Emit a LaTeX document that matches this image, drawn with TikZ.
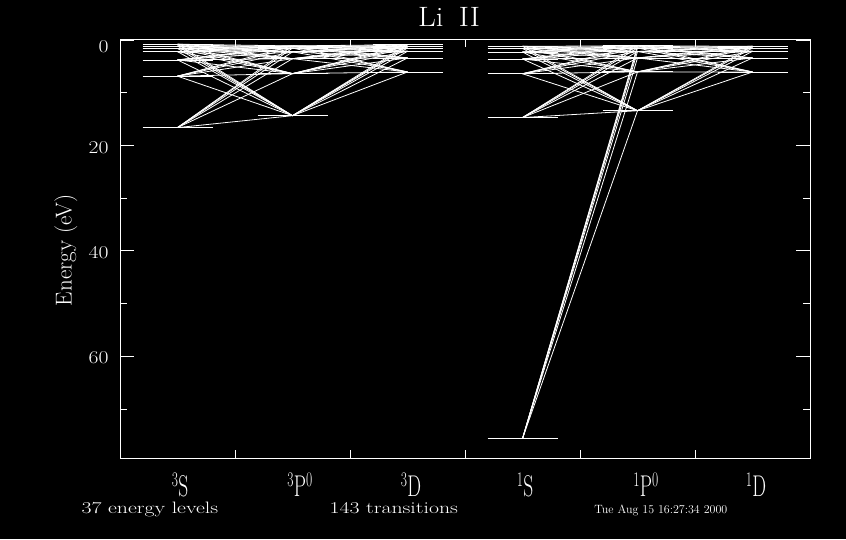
\documentclass[tikz,border=0pt]{standalone}
\begin{document}
\begin{tikzpicture}[x=1pt, y=-1pt, white, line width=0.8pt,
    ticklab/.style={font=\fontsize{18}{18}\selectfont, xscale=1.2, anchor=east},
    termlab/.style={font=\fontsize{30}{30}\selectfont, xscale=0.65, anchor=base, inner sep=0pt},
    infolab/.style={font=\fontsize{16.5}{16.5}\selectfont, xscale=1.32, anchor=base west, inner sep=0pt}]
  % Background and page size
  \fill[black] (0,0) rectangle (846,539);
  \useasboundingbox (0,0) rectangle (846,539);

  % Level positions (binding energy in eV, 5.27 px per eV)
  \foreach \n/\e in {2/16.62,3/6.86,4/3.78,5/2.2,6/1.6,7/1.15,8/0.8}
    \coordinate (tS-\n) at (177.5,{40+5.27*\e});
  \foreach \n/\e in {2/14.36,3/6.38,4/3.54,5/2.25,6/1.54,7/1.12}
    \coordinate (tP-\n) at (292.5,{40+5.27*\e});
  \foreach \n/\e in {3/6.07,4/3.4,5/2.15,6/1.52,7/1.2,8/0.89}
    \coordinate (tD-\n) at (407.5,{40+5.27*\e});
  \foreach \n/\e in {1/75.64,2/14.72,3/6.4,4/3.6,5/2.28,6/1.6,7/1.2}
    \coordinate (sS-\n) at (522.5,{40+5.27*\e});
  \foreach \n/\e in {2/13.42,3/6.05,4/3.4,5/2.18,6/1.51,7/1.11}
    \coordinate (sP-\n) at (637.5,{40+5.27*\e});
  \foreach \n/\e in {3/6.07,4/3.4,5/2.15,6/1.52,7/1.2}
    \coordinate (sD-\n) at (752.5,{40+5.27*\e});

  % Levels
  \foreach \c/\ns in {tS/{2,...,8}, tP/{2,...,7}, tD/{3,...,8},
                      sS/{1,...,7}, sP/{2,...,7}, sD/{3,...,7}}
    \foreach \n in \ns
      \draw ([xshift=-35pt]\c-\n) -- ([xshift=35pt]\c-\n);

  % Transitions, triplets
  \foreach \a in {2,...,8}
    \foreach \b in {2,...,7}
      \draw (tS-\a) -- (tP-\b);
  \foreach \a in {2,...,7}
    \foreach \b in {3,...,8}
      \draw (tP-\a) -- (tD-\b);

  % Transitions, singlets
  \foreach \a in {1,...,7}
    \foreach \b in {2,...,7}
      \draw (sS-\a) -- (sP-\b);
  \foreach \a in {2,...,7}
    \foreach \b in {3,...,7}
      \draw (sP-\a) -- (sD-\b);

  % Frame and ticks
  \draw (120,39) rectangle (810,458);
  \foreach \e in {0,20,40,60} {
    \draw (120,{40+5.27*\e}) -- ++(14,0);
    \draw (810,{40+5.27*\e}) -- ++(-14,0);
  }
  \foreach \e in {10,30,50,70} {
    \draw (120,{40+5.27*\e}) -- ++(7,0);
    \draw (810,{40+5.27*\e}) -- ++(-7,0);
  }
  \foreach \x in {235,350,465,580,695} {
    \draw (\x,39) -- ++(0,8);
    \draw (\x,458) -- ++(0,-8);
  }

  % Axis labels
  \foreach \e/\yy in {0/47,20/148,40/253,60/358}
    \node[ticklab] (tick\e) at (113,\yy) {\e};
  \node[font=\fontsize{23}{23}\selectfont, rotate=90] (ylabel) at (66,250) {Energy (eV)};
  \node[font=\fontsize{28}{28}\selectfont, xscale=1.1] (title) at (449,17) {Li\hspace{0.5em}II};

  % Term labels
  \node[termlab] (labTS) at (180,496) {$^3$S};
  \node[termlab] (labTP) at (300,496) {$^3$P$^0$};
  \node[termlab] (labTD) at (411,496) {$^3$D};
  \node[termlab] (labSS) at (525,496) {$^1$S};
  \node[termlab] (labSP) at (646,496) {$^1$P$^0$};
  \node[termlab] (labSD) at (756,496) {$^1$D};

  % Counts and date
  \node[infolab] (nlev) at (81,513) {37 energy levels};
  \node[infolab] (ntrans) at (329,513) {143 transitions};
  \node[font=\fontsize{12}{12}\selectfont, anchor=base west, inner sep=0pt] (date) at (594,513) {Tue Aug 15 16:27:34 2000};
\end{tikzpicture}
\end{document}
